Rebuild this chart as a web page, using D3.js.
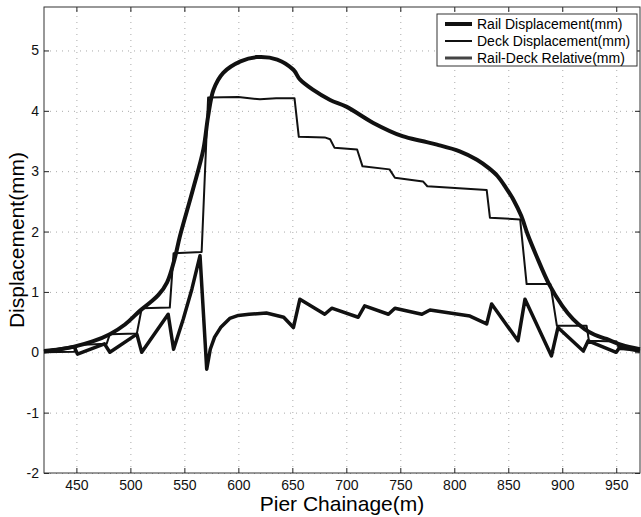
<html>
<head>
<meta charset="utf-8">
<title>Pier displacement</title>
<script src="https://cdn.jsdelivr.net/npm/d3@7"></script>
<style>
  body{ margin:0; background:#fff; }
  svg{ font-family: "Liberation Sans", Arial, sans-serif; }
  .grid line{ stroke:#aaa; stroke-width:1px; stroke-dasharray:1,5; }
  .grid path{ display:none; }
  .axis text{ font-size:14px; fill:#111; }
  .axis line{ stroke:#222; }
  .axis path{ display:none; }
  .series{ fill:none; stroke:#111; stroke-linejoin:round; }
</style>
</head>
<body>
<script>
// chainage (m) and displacement (mm)
let railChainage = [420,435,447,465,481,495,509,518,526,534,541,546,558,567.6,572,577,586,602,617,636,651,657,669,685,700,725,752,770,784,805,821,832,840,848,855,862,868,876,888,900,910,921,930,941,955,972]
let railDisp     = [0.02,0.05,0.09,0.18,0.30,0.46,0.69,0.82,0.95,1.16,1.55,1.93,2.70,3.36,3.91,4.35,4.63,4.82,4.89,4.85,4.68,4.52,4.35,4.18,4.07,3.80,3.58,3.50,3.44,3.33,3.19,3.05,2.92,2.72,2.52,2.26,1.95,1.60,1.12,0.77,0.55,0.38,0.29,0.22,0.12,0.05]

let deckChainage = [420,448,451,478,481,506,510.5,536.5,540,566,572,600,620,635,652,656,680,685,689,710,715,740,745,771,775,830,833,861,867,889,895,922.5,924.7,950,953,972]
let deckDisp     = [0.0,0.01,0.12,0.14,0.30,0.31,0.73,0.74,1.64,1.66,4.22,4.23,4.19,4.21,4.21,3.57,3.56,3.53,3.39,3.36,3.08,3.03,2.89,2.83,2.75,2.69,2.23,2.20,1.13,1.13,0.44,0.44,0.19,0.18,0.05,0.04]

let relChainage = [420,448,451,476,481,506,510.5,535,540,549,557,564.5,570.7,574,578,584,592,600,610,626,642,651,657,680,686.5,711,717,739,745,770,777.5,796,814.5,830,834.6,859,865.5,890,896,919.5,924,950,953,972]
let relDisp     = [0.01,0.09,-0.03,0.14,0.0,0.30,0.0,0.63,0.05,0.55,1.05,1.60,-0.28,0.05,0.25,0.42,0.56,0.61,0.63,0.65,0.58,0.41,0.88,0.63,0.73,0.58,0.77,0.63,0.73,0.63,0.70,0.65,0.60,0.47,0.80,0.19,0.88,-0.06,0.41,0.02,0.19,0.0,0.08,0.02]

let xTicks = [450,500,550,600,650,700,750,800,850,900,950]
let yTicks = [-2,-1,0,1,2,3,4,5]
let seriesNames = ["Rail Displacement(mm)","Deck Displacement(mm)","Rail-Deck Relative(mm)"]

let w = 641
let h = 517
let plotL = 44, plotR = 640, plotT = 7, plotB = 473

let svg = d3.select("body").append("svg")
            .attr("width",w)
            .attr("height",h)

let xScale = d3.scaleLinear().domain([420,972]).range([plotL,plotR])
let yScale = d3.scaleLinear().domain([-2,5.72]).range([plotB,plotT])
let plainNum = d => String(d)

// dotted grid
svg.append("g").attr("class","grid")
    .attr("transform","translate(0,"+plotB+")")
    .call(d3.axisBottom(xScale).tickValues(xTicks).tickSize(-(plotB-plotT)).tickFormat(""))
svg.append("g").attr("class","grid")
    .attr("transform","translate("+plotL+",0)")
    .call(d3.axisLeft(yScale).tickValues(yTicks).tickSize(-(plotR-plotL)).tickFormat(""))

// axes, ticks pointing inward
svg.append("g").attr("class","axis")
    .attr("transform","translate(0,"+plotB+")")
    .call(d3.axisBottom(xScale).tickValues(xTicks).tickSizeInner(-5).tickSizeOuter(0).tickPadding(7).tickFormat(plainNum))
svg.append("g").attr("class","axis")
    .attr("transform","translate(0,"+plotT+")")
    .call(d3.axisTop(xScale).tickValues(xTicks).tickSizeInner(-5).tickSizeOuter(0).tickFormat(""))
svg.append("g").attr("class","axis")
    .attr("transform","translate("+plotL+",0)")
    .call(d3.axisLeft(yScale).tickValues(yTicks).tickSizeInner(-5).tickSizeOuter(0).tickPadding(5).tickFormat(plainNum))
svg.append("g").attr("class","axis")
    .attr("transform","translate("+plotR+",0)")
    .call(d3.axisRight(yScale).tickValues(yTicks).tickSizeInner(-5).tickSizeOuter(0).tickFormat(""))

svg.append("rect")
    .attr("x",plotL).attr("y",plotT)
    .attr("width",plotR-plotL).attr("height",plotB-plotT)
    .attr("fill","none").attr("stroke","#333").attr("stroke-width",1)

// lines
let zip = (xs,ys) => xs.map((x,i)=>[x,ys[i]])
let smooth = d3.line().x(d=>xScale(d[0])).y(d=>yScale(d[1])).curve(d3.curveCatmullRom.alpha(0.5))
let straight = d3.line().x(d=>xScale(d[0])).y(d=>yScale(d[1]))

svg.append("path").attr("class","series")
    .datum(zip(relChainage,relDisp))
    .attr("d",straight)
    .attr("stroke-width",3.5)
svg.append("path").attr("class","series")
    .datum(zip(deckChainage,deckDisp))
    .attr("d",straight)
    .attr("stroke-width",2)
svg.append("path").attr("class","series")
    .datum(zip(railChainage,railDisp))
    .attr("d",smooth)
    .attr("stroke-width",4)

// axis titles
svg.append("text")
    .attr("x",(plotL+plotR)/2).attr("y",511)
    .attr("text-anchor","middle")
    .attr("font-size",21)
    .text("Pier Chainage(m)")
svg.append("text")
    .attr("transform","translate(24,240) rotate(-90)")
    .attr("text-anchor","middle")
    .attr("font-size",21)
    .text("Displacement(mm)")

// legend
let legend = svg.append("g")
legend.append("rect")
    .attr("x",437).attr("y",14).attr("width",200).attr("height",52)
    .attr("fill","#fff").attr("stroke","#333").attr("stroke-width",1)
let legendWidths = [4,2,3]
seriesNames.forEach((name,i)=>{
    let y = 24 + i*17
    legend.append("line")
        .attr("x1",445).attr("x2",472).attr("y1",y).attr("y2",y)
        .attr("stroke",i==2 ? "#444" : "#111").attr("stroke-width",legendWidths[i])
    legend.append("text")
        .attr("x",477).attr("y",y).attr("dy","0.35em")
        .attr("font-size",14)
        .text(name)
})
</script>
</body>
</html>
